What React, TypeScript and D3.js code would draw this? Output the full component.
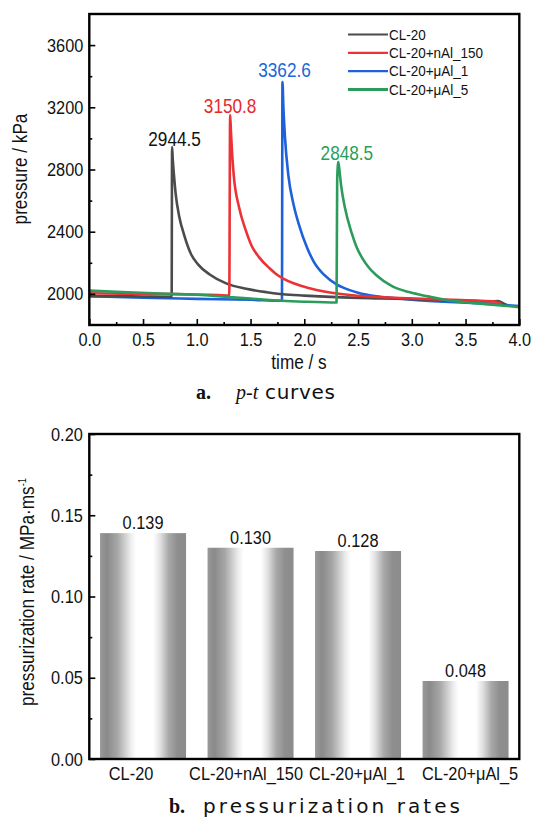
import React, { useEffect, useRef } from "react";
import * as d3 from "d3";

// ---------- data ----------
const seriesNames = ["CL-20", "CL-20+nAl_150", "CL-20+\u03bcAl_1", "CL-20+\u03bcAl_5"];

// pressure traces [time s, pressure kPa]
const traceCL20: [number, number][] = [
  [0, 1986], [0.25, 1985], [0.5, 1983], [0.766, 1981], [0.77, 2944.5], [0.776, 2870],
  [0.788, 2760], [0.804, 2640], [0.836, 2500], [0.884, 2375], [0.947, 2255], [1.011, 2190],
  [1.12, 2125], [1.278, 2066], [1.46, 2033], [1.65, 2011], [1.8, 1998], [2.0, 1989],
  [2.3, 1979], [2.7, 1971], [3.0, 1966], [3.4, 1958], [3.74, 1952], [3.8, 1954],
  [3.84, 1944], [3.88, 1930],
];
const traceNAl150: [number, number][] = [
  [0, 2004], [0.3, 2002], [0.6, 2000], [0.9, 1997], [1.2, 1993], [1.302, 1990],
  [1.31, 3150.8], [1.318, 3040], [1.328, 2910], [1.344, 2760], [1.392, 2560], [1.455, 2410],
  [1.51, 2310], [1.58, 2235], [1.677, 2165], [1.743, 2125], [1.8, 2100], [1.9, 2068],
  [2.05, 2036], [2.185, 2015], [2.5, 1988], [2.98, 1972], [3.2, 1966], [3.456, 1960],
  [3.6, 1957], [3.773, 1951], [3.8, 1944], [3.84, 1935],
];
const traceUAl1: [number, number][] = [
  [0, 1985], [0.5, 1975], [1.0, 1968], [1.5, 1962], [1.792, 1956], [1.797, 3362.6],
  [1.805, 3210], [1.82, 3010], [1.852, 2760], [1.9, 2575], [1.95, 2445], [2.027, 2295],
  [2.09, 2205], [2.185, 2122], [2.3, 2062], [2.363, 2040], [2.5, 2008], [2.673, 1985],
  [2.82, 1974], [3.0, 1963], [3.297, 1950], [3.6, 1940], [3.8, 1932], [4.0, 1922],
];
const traceUAl5: [number, number][] = [
  [0, 2021], [0.3, 2012], [0.6, 2004], [1.0, 1995], [1.3, 1980], [1.5, 1970], [1.79, 1956],
  [2.0, 1950], [2.3, 1945], [2.306, 2740], [2.317, 2848.5], [2.33, 2775], [2.344, 2690],
  [2.376, 2560], [2.439, 2395], [2.487, 2300], [2.535, 2235], [2.6, 2170], [2.673, 2118],
  [2.82, 2048], [2.983, 2010], [3.15, 1984], [3.297, 1963], [3.614, 1939], [3.8, 1928],
  [4.0, 1915],
];
const traces = [traceCL20, traceNAl150, traceUAl1, traceUAl5];
const peakValues = [2944.5, 3150.8, 3362.6, 2848.5];

const timeTicks = [0, 0.5, 1, 1.5, 2, 2.5, 3, 3.5, 4];
const timeMinorTicks = [0.25, 0.75, 1.25, 1.75, 2.25, 2.75, 3.25, 3.75];
const pressureTicks = [2000, 2400, 2800, 3200, 3600];
const pressureMinorTicks = [2200, 2600, 3000, 3400];

const rates = [0.139, 0.13, 0.128, 0.048];
const rateTicks = [0, 0.05, 0.1, 0.15, 0.2];
const rateMinorTicks = [0.025, 0.075, 0.125, 0.175];

// ---------- style ----------
const FONT = "'Liberation Sans', Arial, Helvetica, sans-serif";
const SX = 0.86;
const lineColors = ["#4b4b4b", "#ec3237", "#1d62d8", "#2c9c5c"];
const labelColors = ["#111111", "#e8262b", "#1a66dc", "#2a9d5a"];
const peakLabelOffset: [number, number][] = [[2.5, -1], [0, -2], [2, -5], [8.5, -2]];
const categoryLabelDx = [-12, -4.5, -1, 4.5];
const drawOrder = [2, 0, 1, 3];

const TOP = { l: 89.3, r: 519.3, t: 14, b: 325 };
const BOT = { l: 89.3, r: 519.3, t: 434, b: 759 };

function CText(props: {
  x: number; y: number; size: number; anchor?: string; fill?: string; rotate?: boolean;
  sx?: number; children: React.ReactNode;
}) {
  const { x, y, size, anchor = "middle", fill = "#111", rotate = false, sx = SX, children } = props;
  return (
    <text
      transform={`translate(${x},${y})${rotate ? " rotate(-90)" : ""} scale(${sx},1)`}
      fontSize={size}
      fontFamily={FONT}
      textAnchor={anchor}
      fill={fill}
    >
      {children}
    </text>
  );
}

export default function App() {
  const xT = d3.scaleLinear().domain([0, 4]).range([TOP.l, TOP.r]);
  const yT = d3.scaleLinear().domain([1800, 3800]).range([TOP.b, TOP.t]);
  const xB = d3.scaleBand<string>().domain(seriesNames).range([BOT.l, BOT.r]).paddingInner(0.2).paddingOuter(0.1);
  const yB = d3.scaleLinear().domain([0, 0.2]).range([BOT.b, BOT.t]);
  const line = d3
    .line<[number, number]>()
    .x((d) => xT(d[0]))
    .y((d) => yT(d[1]))
    .curve(d3.curveMonotoneX);

  const gTX = useRef<SVGGElement>(null);
  const gTXm = useRef<SVGGElement>(null);
  const gTY = useRef<SVGGElement>(null);
  const gTYm = useRef<SVGGElement>(null);
  const gBX = useRef<SVGGElement>(null);
  const gBY = useRef<SVGGElement>(null);
  const gBYm = useRef<SVGGElement>(null);

  useEffect(() => {
    const styleTicks = (g: any, pad: number, isY: boolean) => {
      g.select(".domain").remove();
      g.selectAll(".tick line").attr("stroke", "#000").attr("stroke-width", 1.6);
      g.selectAll(".tick text")
        .attr("font-size", 19)
        .attr("font-family", FONT)
        .attr("fill", "#111")
        .attr("transform", `scale(${SX},1)`);
      if (isY) g.selectAll(".tick text").attr("x", -pad / SX);
    };
    const tx = d3.select(gTX.current!);
    tx.call(
      d3.axisBottom(xT).tickValues(timeTicks).tickFormat(d3.format(".1f") as any)
        .tickSizeInner(-6).tickSizeOuter(0).tickPadding(7.5)
    );
    styleTicks(tx, 0, false);
    const txm = d3.select(gTXm.current!);
    txm.call(d3.axisBottom(xT).tickValues(timeMinorTicks).tickFormat(() => "").tickSizeInner(-3).tickSizeOuter(0));
    styleTicks(txm, 0, false);

    const ty = d3.select(gTY.current!);
    ty.call(
      d3.axisLeft(yT).tickValues(pressureTicks).tickFormat(d3.format("d") as any)
        .tickSizeInner(-6).tickSizeOuter(0).tickPadding(6)
    );
    styleTicks(ty, 6, true);
    const tym = d3.select(gTYm.current!);
    tym.call(d3.axisLeft(yT).tickValues(pressureMinorTicks).tickFormat(() => "").tickSizeInner(-3).tickSizeOuter(0));
    styleTicks(tym, 0, true);

    const bx = d3.select(gBX.current!);
    bx.call(d3.axisBottom(xB).tickSize(0).tickPadding(7.5));
    styleTicks(bx, 0, false);
    bx.selectAll(".tick text").attr("x", (_d: any, i: number) => categoryLabelDx[i] / SX);

    const by = d3.select(gBY.current!);
    by.call(
      d3.axisLeft(yB).tickValues(rateTicks).tickFormat(d3.format(".2f") as any)
        .tickSizeInner(-6).tickSizeOuter(0).tickPadding(6.5)
    );
    styleTicks(by, 6.5, true);
    const bym = d3.select(gBYm.current!);
    bym.call(d3.axisLeft(yB).tickValues(rateMinorTicks).tickFormat(() => "").tickSizeInner(-3).tickSizeOuter(0));
    styleTicks(bym, 0, true);
  }, []);

  const bw = xB.bandwidth();

  return (
    <svg
      width={535}
      height={819}
      style={{ position: "absolute", left: 0, top: 0, background: "#fff", display: "block" }}
    >
      <defs>
        <linearGradient id="barGrad" x1="0" x2="1" y1="0" y2="0">
          <stop offset="0" stopColor="#999999" />
          <stop offset="0.08" stopColor="#8a8a8a" />
          <stop offset="0.2" stopColor="#a6a6a6" />
          <stop offset="0.36" stopColor="#eeeeee" />
          <stop offset="0.42" stopColor="#ffffff" />
          <stop offset="0.62" stopColor="#ffffff" />
          <stop offset="0.7" stopColor="#e0e0e0" />
          <stop offset="0.8" stopColor="#a8a8a8" />
          <stop offset="0.9" stopColor="#8e8e8e" />
          <stop offset="1" stopColor="#8c8c8c" />
        </linearGradient>
      </defs>
      <rect x={0} y={0} width={535} height={819} fill="#fff" />

      {/* ===== top chart: p-t curves ===== */}
      {drawOrder.map((i) => (
        <path
          key={"c" + i}
          d={line(traces[i]) || ""}
          fill="none"
          stroke={lineColors[i]}
          strokeWidth={2.6}
          strokeLinejoin="round"
        />
      ))}
      {traces.map((tr, i) => {
        const pk = d3.greatest(tr, (d) => d[1])!;
        return (
          <CText
            key={"pk" + i}
            x={xT(pk[0]) + peakLabelOffset[i][0]}
            y={yT(peakValues[i]) + peakLabelOffset[i][1]}
            size={20}
            fill={labelColors[i]}
          >
            {d3.format(".1f")(peakValues[i])}
          </CText>
        );
      })}
      <g ref={gTX} transform={`translate(0,${TOP.b})`} />
      <g ref={gTXm} transform={`translate(0,${TOP.b})`} />
      <g ref={gTY} transform={`translate(${TOP.l},0)`} />
      <g ref={gTYm} transform={`translate(${TOP.l},0)`} />
      <rect x={TOP.l} y={TOP.t} width={TOP.r - TOP.l} height={TOP.b - TOP.t} fill="none" stroke="#000" strokeWidth={2.4} />

      {/* legend */}
      {seriesNames.map((n, i) => {
        const ly = 34.5 + i * 18.3;
        return (
          <g key={"lg" + i}>
            <line x1={348} x2={388} y1={ly} y2={ly} stroke={lineColors[i]} strokeWidth={i === 3 ? 3 : 2.2} />
            <CText x={389} y={ly + 5.3} size={15} anchor="start" sx={0.9}>
              {n}
            </CText>
          </g>
        );
      })}

      <CText x={299} y={369} size={20}>time / s</CText>
      <CText x={27} y={169} size={20} rotate>pressure / kPa</CText>

      <text x={196} y={399} fontSize={20} fill="#111">
        <tspan fontFamily="'Liberation Serif', serif" fontWeight="bold">a.</tspan>
        <tspan x={236} fontFamily="'Liberation Serif', serif" fontStyle="italic">p-t</tspan>
        <tspan x={265} fontFamily="'DejaVu Sans', sans-serif" fontSize={20} textLength={70} lengthAdjust="spacing">curves</tspan>
      </text>

      {/* ===== bottom chart: pressurization rates ===== */}
      {seriesNames.map((n, i) => (
        <rect
          key={"b" + i}
          x={xB(n)!}
          y={yB(rates[i])}
          width={bw}
          height={yB(0) - yB(rates[i])}
          fill="url(#barGrad)"
        />
      ))}
      {seriesNames.map((n, i) => (
        <CText key={"bl" + i} x={xB(n)! + bw / 2} y={yB(rates[i]) - 4} size={19}>
          {d3.format(".3f")(rates[i])}
        </CText>
      ))}
      <g ref={gBX} transform={`translate(0,${BOT.b})`} />
      <g ref={gBY} transform={`translate(${BOT.l},0)`} />
      <g ref={gBYm} transform={`translate(${BOT.l},0)`} />
      <rect x={BOT.l} y={BOT.t} width={BOT.r - BOT.l} height={BOT.b - BOT.t} fill="none" stroke="#000" strokeWidth={2.4} />

      <text transform={`translate(34,592) rotate(-90) scale(${SX},1)`} fontSize={20} fontFamily={FONT} textAnchor="middle" fill="#111">
        pressurization rate / MPa·ms
        <tspan fontSize={11} dy={-8}>-1</tspan>
      </text>

      <text x={169} y={813} fontSize={20} fill="#111">
        <tspan fontFamily="'Liberation Serif', serif" fontWeight="bold">b.</tspan>
        <tspan x={203} fontFamily="'DejaVu Sans', sans-serif" fontSize={20} textLength={257} lengthAdjust="spacing">pressurization rates</tspan>
      </text>
    </svg>
  );
}
